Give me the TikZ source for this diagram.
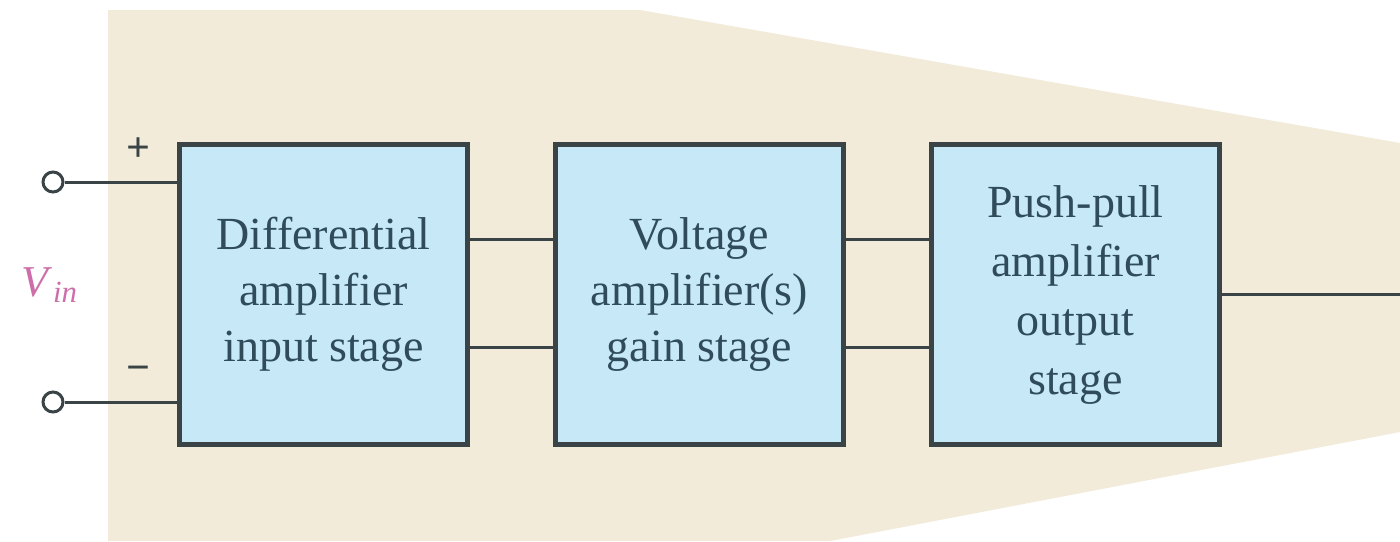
\documentclass[tikz,border=0pt]{standalone}
\usepackage{fontspec}
\setmainfont{Liberation Serif}
\usetikzlibrary{positioning}
\definecolor{opbeige}{RGB}{242,235,218}
\definecolor{stageblue}{RGB}{198,232,247}
\definecolor{wiregray}{RGB}{58,68,70}
\definecolor{stagetext}{RGB}{48,76,90}
\definecolor{vinpink}{RGB}{205,110,170}

\begin{document}
\begin{tikzpicture}[
  x=0.5pt, y=-0.5pt,
  node distance=41.5pt,
  stage/.style={rectangle,draw=wiregray,fill=stageblue,line width=2.5pt,
    minimum width=144pt,minimum height=150pt,align=center,
    font=\fontsize{23}{28}\selectfont,text=stagetext,inner sep=0pt},
  wire/.style={draw=wiregray,line width=1.5pt},
  term/.style={circle,draw=wiregray,fill=white,line width=1.5pt,
    minimum size=10pt,inner sep=0pt},
  sign/.style={font=\fontsize{21}{21}\selectfont\bfseries,text=wiregray}
]
  % canvas and op-amp outline
  \useasboundingbox (0,0) rectangle (1400,541);
  \fill[white] (0,0) rectangle (1400,541);
  \fill[opbeige] (108,10) -- (640,10) -- (1400,143) -- (1400,432) -- (830,541) -- (108,541) -- cycle;

  \node[stage] (diff) at (323.5,294.5) {Differential\\amplifier\\input stage};
  \node[stage, right=of diff] (volt) {Voltage\\amplifier(s)\\gain stage};
  \node[stage, right=of volt, font=\fontsize{23}{29.5}\selectfont] (push) {Push-pull\\amplifier\\output\\stage};

  % inputs
  \node[term] (pin) at (53,182) {};
  \node[term] (nin) at (53,402) {};
  \node[sign] (plus) at (138,150) {+};
  \node[sign] (minus) at (138,374) {−};
  \node[font=\fontsize{22}{22}\selectfont,text=vinpink] (vin) at (50,285) {\textit{V}\textsubscript{\textit{in}}};
  \coordinate (out) at (1400,294.5);

  \draw[wire] (pin) -- (pin -| diff.west);
  \draw[wire] (nin) -- (nin -| diff.west);
  \draw[wire] ([yshift=27.5pt]diff.east) -- ([yshift=27.5pt]volt.west);
  \draw[wire] ([yshift=-26.5pt]diff.east) -- ([yshift=-26.5pt]volt.west);
  \draw[wire] ([yshift=27.5pt]volt.east) -- ([yshift=27.5pt]push.west);
  \draw[wire] ([yshift=-26.5pt]volt.east) -- ([yshift=-26.5pt]push.west);
  \draw[wire] (push.east) -- (out);
\end{tikzpicture}
\end{document}
